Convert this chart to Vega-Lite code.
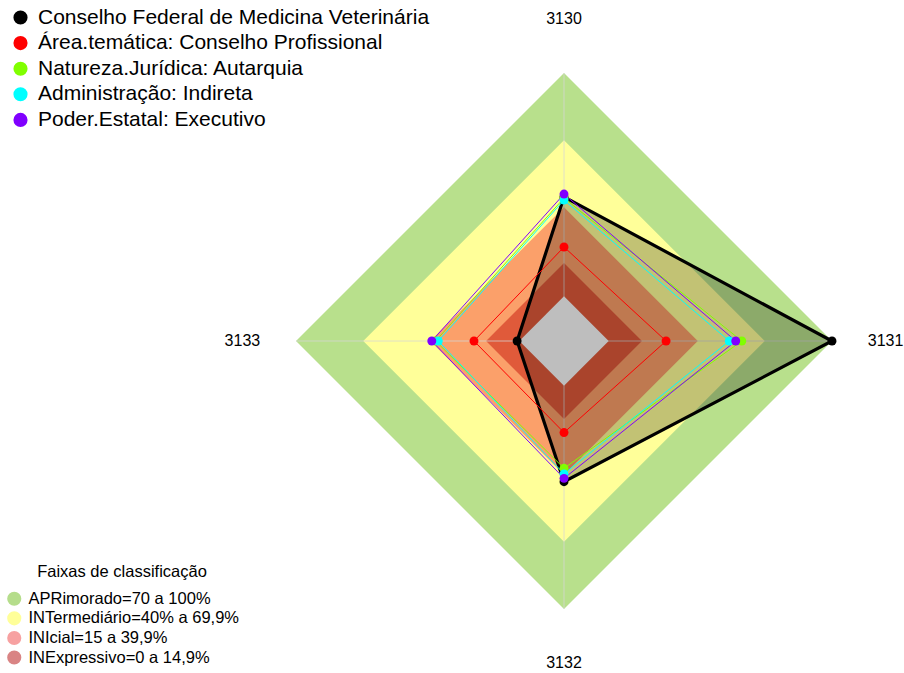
{
  "$schema": "https://vega.github.io/schema/vega-lite/v6.json",
  "width": 536,
  "height": 536,
  "autosize": {"type": "none"},
  "padding": {"left": 296, "top": 73, "right": 72, "bottom": 64},
  "background": "white",
  "config": {"view": {"stroke": null}, "font": "Liberation Sans"},
  "data": {
    "values": [
      {"tipo": "faixa", "nome": "APRimorado=70 a 100%", "eixo": "3130", "valor": 1.0},
      {"tipo": "faixa", "nome": "APRimorado=70 a 100%", "eixo": "3131", "valor": 1.0},
      {"tipo": "faixa", "nome": "APRimorado=70 a 100%", "eixo": "3132", "valor": 1.0},
      {"tipo": "faixa", "nome": "APRimorado=70 a 100%", "eixo": "3133", "valor": 1.0},
      {"tipo": "faixa", "nome": "INTermediário=40% a 69,9%", "eixo": "3130", "valor": 0.699},
      {"tipo": "faixa", "nome": "INTermediário=40% a 69,9%", "eixo": "3131", "valor": 0.699},
      {"tipo": "faixa", "nome": "INTermediário=40% a 69,9%", "eixo": "3132", "valor": 0.699},
      {"tipo": "faixa", "nome": "INTermediário=40% a 69,9%", "eixo": "3133", "valor": 0.699},
      {"tipo": "faixa", "nome": "INIcial=15 a 39,9%", "eixo": "3130", "valor": 0.399},
      {"tipo": "faixa", "nome": "INIcial=15 a 39,9%", "eixo": "3131", "valor": 0.399},
      {"tipo": "faixa", "nome": "INIcial=15 a 39,9%", "eixo": "3132", "valor": 0.399},
      {"tipo": "faixa", "nome": "INIcial=15 a 39,9%", "eixo": "3133", "valor": 0.399},
      {"tipo": "faixa", "nome": "INExpressivo=0 a 14,9%", "eixo": "3130", "valor": 0.149},
      {"tipo": "faixa", "nome": "INExpressivo=0 a 14,9%", "eixo": "3131", "valor": 0.149},
      {"tipo": "faixa", "nome": "INExpressivo=0 a 14,9%", "eixo": "3132", "valor": 0.149},
      {"tipo": "faixa", "nome": "INExpressivo=0 a 14,9%", "eixo": "3133", "valor": 0.149},
      {"tipo": "centro", "nome": "centro", "eixo": "3130", "valor": 0},
      {"tipo": "centro", "nome": "centro", "eixo": "3131", "valor": 0},
      {"tipo": "centro", "nome": "centro", "eixo": "3132", "valor": 0},
      {"tipo": "centro", "nome": "centro", "eixo": "3133", "valor": 0},
      {"tipo": "serie", "nome": "Conselho Federal de Medicina Veterinária", "eixo": "3130", "valor": 0.445},
      {"tipo": "serie", "nome": "Conselho Federal de Medicina Veterinária", "eixo": "3131", "valor": 1.0},
      {"tipo": "serie", "nome": "Conselho Federal de Medicina Veterinária", "eixo": "3132", "valor": 0.43},
      {"tipo": "serie", "nome": "Conselho Federal de Medicina Veterinária", "eixo": "3133", "valor": 0.01},
      {"tipo": "serie", "nome": "Área.temática: Conselho Profissional", "eixo": "3130", "valor": 0.221},
      {"tipo": "serie", "nome": "Área.temática: Conselho Profissional", "eixo": "3131", "valor": 0.257},
      {"tipo": "serie", "nome": "Área.temática: Conselho Profissional", "eixo": "3132", "valor": 0.21},
      {"tipo": "serie", "nome": "Área.temática: Conselho Profissional", "eixo": "3133", "valor": 0.203},
      {"tipo": "serie", "nome": "Natureza.Jurídica: Autarquia", "eixo": "3130", "valor": 0.44},
      {"tipo": "serie", "nome": "Natureza.Jurídica: Autarquia", "eixo": "3131", "valor": 0.596},
      {"tipo": "serie", "nome": "Natureza.Jurídica: Autarquia", "eixo": "3132", "valor": 0.37},
      {"tipo": "serie", "nome": "Natureza.Jurídica: Autarquia", "eixo": "3133", "valor": 0.375},
      {"tipo": "serie", "nome": "Administração: Indireta", "eixo": "3130", "valor": 0.431},
      {"tipo": "serie", "nome": "Administração: Indireta", "eixo": "3131", "valor": 0.54},
      {"tipo": "serie", "nome": "Administração: Indireta", "eixo": "3132", "valor": 0.395},
      {"tipo": "serie", "nome": "Administração: Indireta", "eixo": "3133", "valor": 0.363},
      {"tipo": "serie", "nome": "Poder.Estatal: Executivo", "eixo": "3130", "valor": 0.458},
      {"tipo": "serie", "nome": "Poder.Estatal: Executivo", "eixo": "3131", "valor": 0.569},
      {"tipo": "serie", "nome": "Poder.Estatal: Executivo", "eixo": "3132", "valor": 0.415},
      {"tipo": "serie", "nome": "Poder.Estatal: Executivo", "eixo": "3133", "valor": 0.392}
    ]
  },
  "transform": [
    {"calculate": "(datum.valor + 0.2) * (datum.eixo === '3131' ? 1 : (datum.eixo === '3133' ? -1 : 0))", "as": "x"},
    {"calculate": "(datum.valor + 0.2) * (datum.eixo === '3130' ? 1 : (datum.eixo === '3132' ? -1 : 0))", "as": "y"}
  ],
  "encoding": {
    "x": {"field": "x", "type": "quantitative", "scale": {"domain": [-1.2, 1.2], "nice": false, "zero": false}, "axis": null},
    "y": {"field": "y", "type": "quantitative", "scale": {"domain": [-1.2, 1.2], "nice": false, "zero": false}, "axis": null}
  },
  "layer": [
    {
      "transform": [{"filter": "datum.nome === 'APRimorado=70 a 100%'"}],
      "mark": {"type": "line", "interpolate": "linear-closed", "fill": "#B8E08C", "stroke": null, "strokeWidth": 0},
      "encoding": {"order": {"field": "eixo", "type": "ordinal"}}
    },
    {
      "transform": [{"filter": "datum.nome === 'INTermediário=40% a 69,9%'"}],
      "mark": {"type": "line", "interpolate": "linear-closed", "fill": "#FFFF99", "stroke": null, "strokeWidth": 0},
      "encoding": {"order": {"field": "eixo", "type": "ordinal"}}
    },
    {
      "transform": [{"filter": "datum.nome === 'INIcial=15 a 39,9%'"}],
      "mark": {"type": "line", "interpolate": "linear-closed", "fill": "#FBA06A", "stroke": null, "strokeWidth": 0},
      "encoding": {"order": {"field": "eixo", "type": "ordinal"}}
    },
    {
      "transform": [{"filter": "datum.nome === 'INExpressivo=0 a 14,9%'"}],
      "mark": {"type": "line", "interpolate": "linear-closed", "fill": "#E05A3A", "stroke": null, "strokeWidth": 0},
      "encoding": {"order": {"field": "eixo", "type": "ordinal"}}
    },
    {
      "transform": [{"filter": "datum.nome === 'APRimorado=70 a 100%'"}],
      "mark": {"type": "rule", "color": "#D6D6D6", "strokeWidth": 1, "opacity": 0.75},
      "encoding": {"x2": {"datum": 0}, "y2": {"datum": 0}}
    },
    {
      "transform": [{"filter": "datum.nome === 'Conselho Federal de Medicina Veterinária'"}],
      "mark": {"type": "line", "interpolate": "linear-closed", "fill": "#000000", "fillOpacity": 0.24, "stroke": null, "strokeWidth": 0},
      "encoding": {"order": {"field": "eixo", "type": "ordinal"}}
    },
    {
      "transform": [{"filter": "datum.nome === 'centro'"}],
      "mark": {"type": "line", "interpolate": "linear-closed", "fill": "#BEBEBE", "stroke": null, "strokeWidth": 0},
      "encoding": {"order": {"field": "eixo", "type": "ordinal"}}
    },
    {
      "transform": [{"filter": "datum.nome === 'Conselho Federal de Medicina Veterinária'"}],
      "mark": {"type": "line", "interpolate": "linear-closed", "color": "#000000", "strokeWidth": 3.2, "strokeJoin": "miter"},
      "encoding": {"order": {"field": "eixo", "type": "ordinal"}}
    },
    {
      "transform": [{"filter": "datum.nome === 'Área.temática: Conselho Profissional'"}],
      "mark": {"type": "line", "interpolate": "linear-closed", "color": "#FF0000", "strokeWidth": 1},
      "encoding": {"order": {"field": "eixo", "type": "ordinal"}}
    },
    {
      "transform": [{"filter": "datum.nome === 'Natureza.Jurídica: Autarquia'"}],
      "mark": {"type": "line", "interpolate": "linear-closed", "color": "#80FF00", "strokeWidth": 1},
      "encoding": {"order": {"field": "eixo", "type": "ordinal"}}
    },
    {
      "transform": [{"filter": "datum.nome === 'Administração: Indireta'"}],
      "mark": {"type": "line", "interpolate": "linear-closed", "color": "#00FFFF", "strokeWidth": 1},
      "encoding": {"order": {"field": "eixo", "type": "ordinal"}}
    },
    {
      "transform": [{"filter": "datum.nome === 'Poder.Estatal: Executivo'"}],
      "mark": {"type": "line", "interpolate": "linear-closed", "color": "#8000FF", "strokeWidth": 1},
      "encoding": {"order": {"field": "eixo", "type": "ordinal"}}
    },
    {
      "transform": [{"filter": "datum.tipo === 'serie'"}],
      "mark": {"type": "point", "filled": true, "size": 80, "opacity": 1, "shape": "circle"},
      "encoding": {
        "color": {
          "field": "nome", "type": "nominal", "sort": null,
          "scale": {
            "domain": ["Conselho Federal de Medicina Veterinária", "Área.temática: Conselho Profissional", "Natureza.Jurídica: Autarquia", "Administração: Indireta", "Poder.Estatal: Executivo"],
            "range": ["#000000", "#FF0000", "#80FF00", "#00FFFF", "#8000FF"]
          },
          "legend": {
            "title": null, "orient": "none", "legendX": -286, "legendY": -66,
            "symbolType": "circle", "symbolSize": 200, "symbolStrokeWidth": 0,
            "labelFontSize": 21, "labelFont": "Liberation Sans", "labelColor": "#000000",
            "rowPadding": 3.6, "labelOffset": 7, "labelLimit": 700
          }
        }
      }
    },
    {
      "transform": [
        {"filter": "datum.tipo === 'faixa' && datum.eixo === '3130'"},
        {"calculate": "datum.nome", "as": "faixa"}
      ],
      "mark": {"type": "point", "filled": true, "opacity": 0, "shape": "circle"},
      "encoding": {
        "fill": {
          "field": "faixa", "type": "nominal", "sort": null,
          "scale": {
            "domain": ["APRimorado=70 a 100%", "INTermediário=40% a 69,9%", "INIcial=15 a 39,9%", "INExpressivo=0 a 14,9%"],
            "range": ["#B5DD8B", "#FFFF99", "#F7A1A1", "#D98484"]
          },
          "legend": {
            "title": "Faixas de classificação", "orient": "none", "legendX": -290, "legendY": 491,
            "titleFontSize": 16.5, "titleFontWeight": "normal", "titleFont": "Liberation Sans", "titleColor": "#000000",
            "titleAnchor": "middle", "titlePadding": 10,
            "symbolType": "circle", "symbolSize": 200, "symbolOpacity": 1, "symbolStrokeWidth": 0,
            "labelFontSize": 16.5, "labelFont": "Liberation Sans", "labelColor": "#000000",
            "rowPadding": 2.6, "labelOffset": 6, "labelLimit": 500
          }
        }
      }
    },
    {
      "transform": [
        {"filter": "datum.nome === 'APRimorado=70 a 100%'"},
        {"calculate": "datum.x * 1.2", "as": "lx"},
        {"calculate": "datum.y * 1.2", "as": "ly"}
      ],
      "mark": {"type": "text", "fontSize": 16, "font": "Liberation Sans", "color": "#000000", "align": "center", "baseline": "middle"},
      "encoding": {
        "x": {"field": "lx", "type": "quantitative"},
        "y": {"field": "ly", "type": "quantitative"},
        "text": {"field": "eixo", "type": "nominal"}
      }
    }
  ]
}
